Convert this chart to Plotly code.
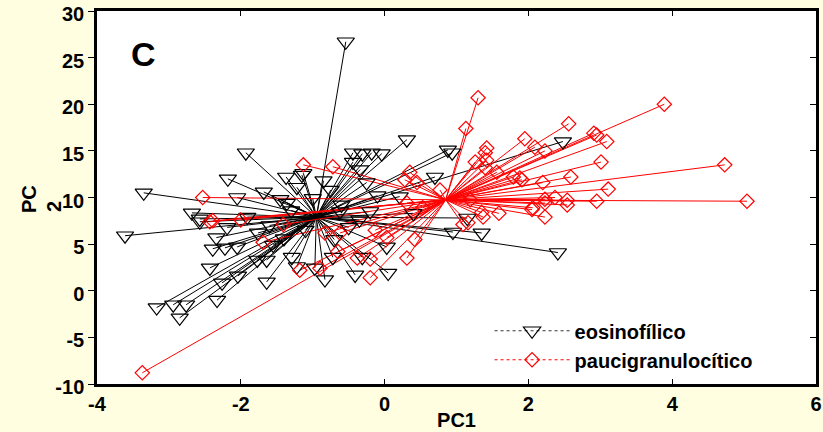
import plotly.graph_objects as go

# ---------------- data ----------------
eos_center_x = -0.95
eos_center_y = 7.9
eos_x = [-0.54, -1.93, -3.35, -2.18, -2.05, -1.68, -1.37, -1.15, -1.22, -1.36,
         -2.68, -2.57, -1.91, -3.61, -2.34, -2.39, -2.22, -2.05, -2.43, -2.04,
         -2.26, -1.64, -3.17, -2.94, -2.76, -2.33, -2.85, -1.77, -1.64, -1.29,
         -1.22, -1.76, -2.57, -2.19, -1.55, 0.31, 0.88, 0.94, -0.44, -0.31,
         -0.18, -0.04, -0.44, -1.13, 0.70, 0.21, -0.34, -0.25, 2.48, 1.15,
         0.95, 1.35, 2.41, -0.97, -0.83, -0.72, -0.41, -0.31, 0.03, 0.05,
         -1.45, -0.75, -0.60, -1.10, -0.50, -1.30, -0.20, -0.85, -0.10, -1.60,
         -0.70, -0.35, 0.40, -1.00, -1.40, -0.62]
eos_y = [26.7, 14.8, 10.5, 12.0, 10.0, 10.6, 12.2, 12.4, 11.1, 9.4,
         8.35, 7.7, 7.9, 5.9, 5.7, 4.5, 4.6, 4.7, 2.45, 1.6,
         0.85, 0.95, -1.8, -1.5, -1.5, -1.0, -2.9, 3.3, 3.3, 3.6,
         2.6, 6.2, 7.4, 6.8, 4.9, 16.2, 15.1, 14.8, 14.8, 14.7,
         14.8, 14.7, 13.8, 12.6, 12.2, 10.1, 13.0, 11.6, 16.0, 7.8,
         6.3, 6.2, 4.1, 2.45, 1.2, 3.6, 1.7, 3.6, 4.7, 1.9,
         9.8, 10.8, 9.2, 6.5, 6.8, 8.6, 8.5, 11.8, 10.2, 7.0,
         5.5, 7.6, 8.3, 9.9, 5.6, 8.5]

pauci_center_x = 0.85
pauci_center_y = 9.75
pauci_x = [-3.37, 1.30, 3.89, 4.73, 5.04, 2.91, 2.95, 3.09, 3.01, 3.11,
           2.95, 2.56, 1.95, 2.09, 2.23, 1.42, 1.40, 1.26, 1.56, 1.88,
           2.20, 2.59, 2.37, 2.23, 2.54, 2.06, 2.23, 1.59, 1.37, 1.13,
           -0.72, -1.13, 0.35, 0.45, 0.77, 1.40, 1.42, 1.91, 2.23, 2.54,
           1.35, 2.05, 0.28, 1.19, 1.16, 0.53, 0.31, -1.18, -0.90, -0.65,
           -0.38, -0.20, -0.20, 0.31, 0.42, 1.09, 0.03, -0.83, -0.62, -0.13,
           -1.69, -2.43, -1.41, -2.53, -2.39, -2.00, 1.79]
pauci_y = [-8.8, 20.7, 20.0, 13.5, 9.6, 16.9, 16.7, 16.0, 13.8, 10.9,
           9.6, 17.9, 16.3, 15.4, 15.0, 15.3, 14.8, 13.8, 12.7, 12.1,
           11.6, 12.2, 10.0, 9.8, 9.2, 8.9, 7.9, 8.3, 7.9, 17.4,
           13.3, 13.5, 12.7, 11.6, 10.8, 13.2, 14.0, 11.9, 9.4, 9.7,
           8.4, 8.7, 11.9, 9.75, 7.3, 8.9, 9.4, 2.2, 2.4, 4.2,
           3.5, 1.4, 3.4, 3.5, 5.5, 7.1, 5.7, 6.2, 6.2, 6.5,
           5.2, 7.4, 7.1, 10.0, 7.5, 7.6, 12.2]

x_ticks = [-4, -2, 0, 2, 4, 6]
y_ticks = [-10, -5, 0, 5, 10, 15, 20, 25, 30]
group_names = ["eosinofílico", "paucigranulocítico"]

# ---------------- figure ----------------
FONT = "Liberation Sans, Arial, sans-serif"
BG = "#FFFEE0"


def spokes(cx, cy, xs, ys):
    lx, ly = [], []
    for a, b in zip(xs, ys):
        lx += [cx, a, None]
        ly += [cy, b, None]
    return lx, ly


fig = go.Figure()

ex, ey = spokes(eos_center_x, eos_center_y, eos_x, eos_y)
px_, py_ = spokes(pauci_center_x, pauci_center_y, pauci_x, pauci_y)

fig.add_trace(go.Scatter(x=ex, y=ey, mode="lines", line=dict(color="black", width=1),
                         showlegend=False, hoverinfo="skip"))
fig.add_trace(go.Scatter(x=px_, y=py_, mode="lines", line=dict(color="#FF0000", width=1),
                         showlegend=False, hoverinfo="skip"))
fig.add_trace(go.Scatter(x=eos_x, y=eos_y, mode="markers", showlegend=False,
                         marker=dict(symbol="triangle-down-open", size=15, color="black",
                                     line=dict(width=1.2, color="black"))))
fig.add_trace(go.Scatter(x=pauci_x, y=pauci_y, mode="markers", showlegend=False,
                         marker=dict(symbol="diamond-open", size=11, color="#FF0000",
                                     line=dict(width=1.2, color="#FF0000"))))
# legend entries
fig.add_trace(go.Scatter(x=[None], y=[None], mode="lines+markers", name=group_names[0],
                         line=dict(color="#333333", width=1, dash="dot"),
                         marker=dict(symbol="triangle-down-open", size=15, color="black",
                                     line=dict(width=1.2, color="black"))))
fig.add_trace(go.Scatter(x=[None], y=[None], mode="lines+markers", name=group_names[1],
                         line=dict(color="#FF0000", width=1, dash="dot"),
                         marker=dict(symbol="diamond-open", size=11, color="#FF0000",
                                     line=dict(width=1.2, color="#FF0000"))))
# invisible trace for the right-hand axis
fig.add_trace(go.Scatter(x=[None], y=[None], yaxis="y2", showlegend=False, hoverinfo="skip"))

tickfont = dict(family=FONT, size=20, color="black", weight="bold")

fig.update_layout(
    width=823, height=432,
    margin=dict(l=97, r=7, t=11, b=48, autoexpand=False),
    paper_bgcolor=BG,
    plot_bgcolor="white",
    font=dict(family=FONT, color="black"),
    xaxis=dict(range=[-4, 6], tickvals=x_ticks, ticktext=[str(v) for v in x_ticks],
               ticks="inside", ticklen=5, tickwidth=1, tickcolor="black",
               showline=True, linecolor="black", linewidth=2.5, mirror="ticks",
               showgrid=False, zeroline=False, tickfont=tickfont, automargin=False,
               title=dict(text="PC1", font=tickfont, standoff=0)),
    yaxis=dict(range=[-10, 30], tickvals=y_ticks, ticktext=[str(v) for v in y_ticks],
               ticks="outside", ticklen=6, tickwidth=1, tickcolor="black",
               showline=True, linecolor="black", linewidth=2.5, mirror=True,
               showgrid=False, zeroline=False, tickfont=tickfont, automargin=False,
               ticklabelshift=3),
    yaxis2=dict(range=[-10, 30], overlaying="y", side="right", tickvals=y_ticks,
                ticks="inside", ticklen=6, tickwidth=1, tickcolor="black", automargin=False,
                showticklabels=False, showline=False, showgrid=False, zeroline=False),
    legend=dict(x=0.546, y=0.195, xanchor="left", yanchor="top",
                bgcolor="rgba(0,0,0,0)", itemwidth=75,
                font=dict(family=FONT, size=20, color="black", weight="bold")),
    annotations=[
        dict(text="C", xref="paper", yref="paper", x=0.064, y=0.885,
             xanchor="center", yanchor="middle", showarrow=False,
             font=dict(family=FONT, size=34, color="black", weight="bold")),
        dict(text="PC", xref="paper", yref="paper", x=-0.0946, y=0.496,
             xanchor="center", yanchor="middle", showarrow=False, textangle=-90,
             font=dict(family=FONT, size=20, color="black", weight="bold")),
        dict(text="2", xref="paper", yref="paper", x=-0.0598, y=0.4745,
             xanchor="center", yanchor="middle", showarrow=False, textangle=-90,
             font=dict(family=FONT, size=20, color="black", weight="bold")),
    ],
)

fig.write_html("out.html", config={"displayModeBar": False},
               post_script="document.body.style.margin='0';"
                           "document.body.style.background='" + BG + "';")
